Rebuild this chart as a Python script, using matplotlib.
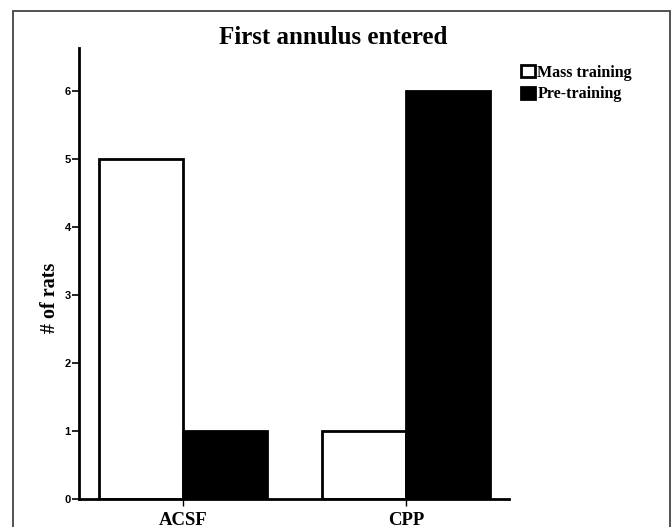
import numpy as np
import matplotlib.pyplot as plt
from matplotlib.patches import Patch, Rectangle

groups = ['ACSF', 'CPP']
series = ['Mass training', 'Pre-training']
mass_training = [5, 1]
pre_training = [1, 6]
yticks = [0, 1, 2, 3, 4, 5, 6]

serif = ['Liberation Serif', 'DejaVu Serif']
sans = ['Liberation Sans', 'DejaVu Sans']

fig = plt.figure(figsize=(6.72, 5.27), dpi=100)
ax = fig.add_axes([0.1176, 0.0531, 0.64, 0.8558])

x = np.arange(len(groups))
w = 0.375
ax.bar(x - w / 2, mass_training, w, color='white', edgecolor='black', linewidth=2)
ax.bar(x + w / 2, pre_training, w, color='black', edgecolor='black', linewidth=2)

ax.set_xlim(-0.466, 1.462)
ax.set_ylim(0, 6.64)
ax.set_xticks(x)
ax.set_xticklabels(groups, fontsize=13.5, fontweight='bold', family=serif)
ax.set_yticks(yticks)
ax.set_yticklabels([str(t) for t in yticks], fontsize=8, fontweight='bold', family=sans)
ax.tick_params(axis='y', length=5, width=1.2, pad=1)
ax.tick_params(axis='x', length=5, width=1.0, pad=4)
ax.set_ylabel('# of rats', fontsize=14.5, fontweight='bold', family=serif)
ax.yaxis.set_label_coords(-0.045, 0.447)

for s in ['top', 'right']:
    ax.spines[s].set_visible(False)
ax.spines['left'].set_linewidth(2)
ax.spines['bottom'].set_linewidth(2)

fig.text(0.496, 0.916, 'First annulus entered', ha='center', va='baseline',
         fontsize=18, fontweight='bold', family=serif)

handles = [Patch(facecolor='white', edgecolor='black', linewidth=2),
           Patch(facecolor='black', edgecolor='black', linewidth=2)]
fig.legend(handles, series, loc='upper left', bbox_to_anchor=(0.776, 0.877),
           frameon=False, borderpad=0, borderaxespad=0, handlelength=0.85,
           handleheight=0.8, handletextpad=0.15, labelspacing=0.35,
           prop={'family': serif, 'weight': 'bold', 'size': 11.5})

fig.patches.append(Rectangle((0.019, -0.02), 0.978, 1.0, transform=fig.transFigure,
                             fill=False, edgecolor='#444444', linewidth=1.3))

fig.savefig('out.png', dpi=100)
